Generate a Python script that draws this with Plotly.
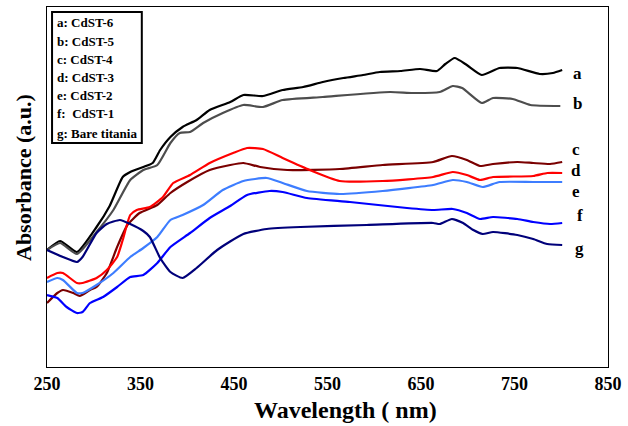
import plotly.graph_objects as go

# ---- data ----
wl_a = [250,264,282,303,317,331,339,353,363,371,382,395,410,424,446,460,481,502,524,545,567,588,606,628,649,667,676,686,699,715,734,753,777,791,801]
ab_a = [1.17,1.26,1.15,1.40,1.61,1.90,1.95,2.00,2.04,2.17,2.30,2.40,2.47,2.57,2.65,2.72,2.71,2.77,2.80,2.85,2.89,2.92,2.95,2.96,2.98,2.96,3.03,3.09,3.02,2.92,2.99,2.99,2.93,2.94,2.97]

wl_b = [250,264,282,303,321,339,353,368,382,392,403,417,438,460,481,502,545,617,641,670,684,694,715,727,748,767,799]
ab_b = [1.17,1.24,1.13,1.35,1.57,1.87,1.97,2.02,2.24,2.34,2.35,2.44,2.54,2.62,2.60,2.67,2.70,2.75,2.74,2.75,2.81,2.79,2.64,2.69,2.68,2.62,2.61]

wl_c = [250,261,267,278,285,296,303,314,325,336,349,368,382,400,424,446,460,478,507,563,609,663,683,699,713,727,753,770,788,801]
ab_c = [0.64,0.74,0.77,0.74,0.71,0.77,0.80,0.94,1.20,1.42,1.54,1.62,1.74,1.85,1.97,2.02,2.04,2.00,1.97,1.98,2.02,2.05,2.11,2.07,2.01,2.03,2.05,2.04,2.03,2.05]

wl_d = [250,261,267,282,288,303,314,325,331,339,346,360,374,385,403,424,449,464,481,502,531,563,609,663,684,699,713,727,770,785,801]
ab_d = [0.89,0.94,0.94,0.84,0.84,0.89,0.97,1.10,1.27,1.52,1.57,1.60,1.70,1.84,1.92,2.04,2.14,2.19,2.18,2.09,1.97,1.86,1.86,1.90,1.95,1.92,1.87,1.90,1.91,1.94,1.94]

wl_e = [250,261,267,282,288,303,321,339,353,368,382,395,417,438,460,485,502,528,563,609,663,684,699,716,734,770,801]
ab_e = [0.85,0.89,0.87,0.74,0.74,0.82,0.94,1.10,1.19,1.30,1.47,1.52,1.62,1.77,1.86,1.89,1.84,1.76,1.73,1.76,1.82,1.87,1.85,1.80,1.85,1.85,1.85]

wl_f = [250,261,271,282,288,296,310,325,339,353,368,382,403,424,446,464,488,502,528,574,635,663,684,699,713,727,753,770,788,801]
ab_f = [0.72,0.69,0.60,0.54,0.55,0.64,0.70,0.80,0.90,0.92,1.04,1.20,1.34,1.49,1.61,1.72,1.76,1.75,1.69,1.65,1.59,1.57,1.58,1.54,1.48,1.50,1.48,1.45,1.43,1.44]

wl_g = [250,267,282,288,303,314,328,339,353,360,371,382,395,410,432,460,485,521,592,663,670,683,695,706,716,727,753,770,785,801]
ab_g = [1.17,1.10,1.05,1.10,1.34,1.43,1.47,1.43,1.36,1.30,1.09,0.95,0.89,0.99,1.17,1.33,1.38,1.40,1.42,1.44,1.43,1.48,1.44,1.37,1.33,1.35,1.32,1.28,1.23,1.22]

series_letters = ["a", "b", "c", "d", "e", "f", "g"]
legend_lines = ["a: CdST-6", "b: CdST-5", "c: CdST-4", "d: CdST-3", "e: CdST-2", "f:\u00a0\u00a0CdST-1", "g: Bare titania"]
x_ticks = [250, 350, 450, 550, 650, 750, 850]

series = [(wl_a, ab_a, "#000000"), (wl_b, ab_b, "#4d4d4d"), (wl_c, ab_c, "#7a0000"),
          (wl_d, ab_d, "#ff0000"), (wl_e, ab_e, "#3d7dff"), (wl_f, ab_f, "#0000ff"),
          (wl_g, ab_g, "#00007a")]

# end label positions (x in nm, y in a.u.)
label_x = [817, 817, 816, 816, 816, 820, 820]
label_y = [2.94, 2.64, 2.18, 1.97, 1.76, 1.52, 1.19]

FONT = "Liberation Serif, Times New Roman, serif"

fig = go.Figure()
for (x, y, c), name in zip(series, legend_lines):
    fig.add_trace(go.Scatter(x=x, y=y, mode="lines", name=name,
                             line=dict(color=c, width=2.2, shape="spline", smoothing=0.5),
                             showlegend=False))

for lx, ly, t in zip(label_x, label_y, series_letters):
    fig.add_annotation(x=lx, y=ly, text=t, showarrow=False, xanchor="center", yanchor="middle",
                       font=dict(family=FONT, size=17, color="black", weight="bold"))

# legend box
fig.add_shape(type="rect", xref="paper", yref="paper", x0=0.009, x1=0.169, y0=0.622, y1=0.986,
              line=dict(color="black", width=2), fillcolor="white", layer="above")
leg_y = [0.956, 0.905, 0.855, 0.805, 0.755, 0.703, 0.650]
for t, yy in zip(legend_lines, leg_y):
    fig.add_annotation(x=0.0143, y=yy, xref="paper", yref="paper", text=t, showarrow=False,
                       xanchor="left", yanchor="middle",
                       font=dict(family=FONT, size=13, color="black", weight="bold"))

# axis titles
fig.add_annotation(x=(345 - 47) / 561, y=(367 - 410) / 360, xref="paper", yref="paper",
                   text="Wavelength ( nm)", showarrow=False, xanchor="center", yanchor="middle",
                   font=dict(family=FONT, size=24, color="black", weight="bold"))
fig.add_annotation(x=(23 - 47) / 561, y=0.525, xref="paper", yref="paper",
                   text="Absorbance (a.u.)", showarrow=False, textangle=-90,
                   xanchor="center", yanchor="middle",
                   font=dict(family=FONT, size=22, color="black", weight="bold"))

fig.update_layout(
    width=628, height=426,
    margin=dict(l=47, r=20, t=7, b=59),
    paper_bgcolor="white", plot_bgcolor="white",
    xaxis=dict(range=[250, 850], tickvals=x_ticks, ticktext=[str(v) for v in x_ticks],
               showgrid=False, zeroline=False, showline=True, mirror=True,
               linecolor="black", linewidth=1, ticks="",
               tickfont=dict(family=FONT, size=18, color="black", weight="bold")),
    yaxis=dict(range=[0, 3.6], showgrid=False, zeroline=False, showline=True, mirror=True,
               linecolor="black", linewidth=1, ticks="", showticklabels=False),
)

fig.write_html("out.html", config={"displayModeBar": False},
               post_script="document.body.style.margin='0';")
